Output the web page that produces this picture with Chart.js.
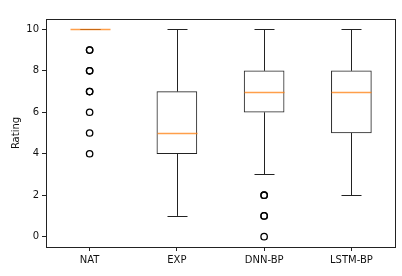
<!DOCTYPE html>
<html>
<head>
<meta charset="utf-8">
<script src="https://cdn.jsdelivr.net/npm/chart.js@4/dist/chart.umd.min.js"></script>
<style>
html,body{margin:0;padding:0;background:#fff;}
#wrap{width:402px;height:276px;position:relative;}
</style>
</head>
<body>
<div id="wrap"><canvas id="c" width="402" height="276"></canvas></div>
<script>
const categories = ['NAT', 'EXP', 'DNN-BP', 'LSTM-BP'];
const whiskerLow = [10, 1, 3, 2];
const q1 = [10, 4, 6, 5];
const medians = [10, 5, 7, 7];
const q3 = [10, 7, 8, 8];
const whiskerHigh = [10, 10, 10, 10];
const outlierCats = ['NAT','NAT','NAT','NAT','NAT','NAT','NAT','NAT','NAT','DNN-BP','DNN-BP','DNN-BP','DNN-BP','DNN-BP'];
const outlierVals = [9, 9, 8, 8, 7, 7, 6, 5, 4, 2, 2, 1, 1, 0];
const yTicks = [0, 2, 4, 6, 8, 10];

const FONT = 'DejaVu Sans';
const BOXW = 40, CAPW = 20;

const boxPlugin = {
  id: 'boxParts',
  afterDraw(chart) {
    const ctx = chart.ctx, xs = chart.scales.x, ys = chart.scales.y;
    ctx.save();
    ctx.setLineDash([]);
    ctx.lineWidth = 1;
    categories.forEach((c, i) => {
      const cx = Math.round(xs.getPixelForValue(i)) + 0.5;
      const yl = ys.getPixelForValue(whiskerLow[i]);
      const yq1 = ys.getPixelForValue(q1[i]);
      const yq3 = ys.getPixelForValue(q3[i]);
      const yh = ys.getPixelForValue(whiskerHigh[i]);
      const yl5 = Math.round(yl) + 0.5, yh5 = Math.round(yh) + 0.5;
      ctx.strokeStyle = '#222222';
      ctx.beginPath();
      if (whiskerLow[i] < q1[i]) { ctx.moveTo(cx, yq1); ctx.lineTo(cx, yl); }
      if (whiskerHigh[i] > q3[i]) { ctx.moveTo(cx, yq3); ctx.lineTo(cx, yh); }
      ctx.moveTo(cx - CAPW / 2, yl5); ctx.lineTo(cx + CAPW / 2, yl5);
      ctx.moveTo(cx - CAPW / 2, yh5); ctx.lineTo(cx + CAPW / 2, yh5);
      ctx.stroke();
    });
    ctx.globalAlpha = 0.75;
    ctx.lineWidth = 1.5;
    categories.forEach((c, i) => {
      const cx = Math.round(xs.getPixelForValue(i)) + 0.5;
      const ym = Math.round(ys.getPixelForValue(medians[i])) + 0.5;
      ctx.strokeStyle = '#ff7f0e';
      ctx.beginPath();
      ctx.moveTo(cx - BOXW / 2, ym); ctx.lineTo(cx + BOXW / 2, ym);
      ctx.stroke();
    });
    ctx.globalAlpha = 1;
    ctx.lineWidth = 1;
    const a = chart.chartArea;
    ctx.strokeStyle = '#222222';
    ctx.strokeRect(Math.round(a.left) + 0.5, Math.round(a.top) + 0.5, Math.round(a.right - a.left), Math.round(a.bottom - a.top));
    ctx.restore();
  }
};

new Chart(document.getElementById('c'), {
  type: 'bar',
  data: {
    labels: categories,
    datasets: [
      {
        type: 'bar',
        data: categories.map((c, i) => [q1[i], q3[i]]),
        backgroundColor: '#ffffff',
        borderColor: '#222',
        borderWidth: 1,
        borderSkipped: false,
        barThickness: BOXW
      },
      {
        type: 'line',
        data: outlierCats.map((c, i) => ({ x: c, y: outlierVals[i] })),
        showLine: false,
        pointStyle: 'circle',
        pointRadius: 3.2,
        pointBorderWidth: 1.3,
        pointBorderColor: '#000',
        pointBackgroundColor: 'rgba(0,0,0,0)'
      }
    ]
  },
  options: {
    responsive: false,
    animation: false,
    devicePixelRatio: 1,
    layout: { padding: { left: 0, right: 7, top: 19, bottom: 0 } },
    plugins: { legend: { display: false }, tooltip: { enabled: false } },
    scales: {
      x: {
        offset: true,
        grid: { display: true, drawOnChartArea: false, tickLength: 4, color: '#222', offset: false },
        border: { display: false },
        ticks: { color: '#111', font: { family: FONT, size: 10 }, padding: 3, maxRotation: 0 },
        afterFit: s => { s.height = 29; }
      },
      y: {
        min: -0.5, max: 10.5,
        afterBuildTicks: s => { s.ticks = yTicks.map(v => ({ value: v })); },
        grid: { display: true, drawOnChartArea: false, tickLength: 4, color: '#222' },
        border: { display: false },
        ticks: { color: '#111', font: { family: FONT, size: 10 }, padding: 3 },
        title: { display: true, text: 'Rating', color: '#111', font: { family: FONT, size: 10 }, padding: { top: 10, bottom: 4 } },
        afterFit: s => { s.width = 46; }
      }
    }
  },
  plugins: [boxPlugin]
});
</script>
</body>
</html>
